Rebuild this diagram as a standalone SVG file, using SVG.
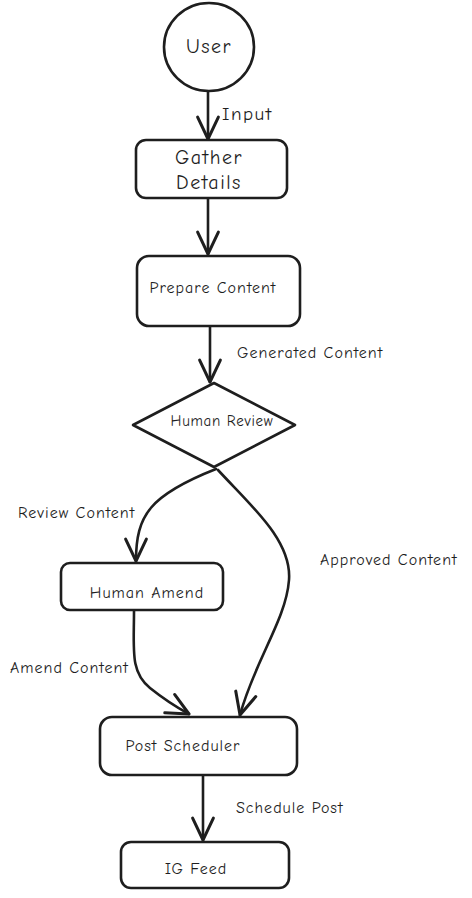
<svg xmlns="http://www.w3.org/2000/svg" width="472" height="898" viewBox="0 0 472 898">
<style>
.n{fill:#fff;stroke:#1e1e1e;stroke-width:2.6;stroke-linejoin:round}
.c{fill:none;stroke:#1e1e1e;stroke-width:2.6;stroke-linecap:round;stroke-linejoin:round}
text{font-family:"Comic Neue","Liberation Sans","DejaVu Sans",sans-serif;fill:#1e1e1e}
.t{font-size:20px;letter-spacing:1.5px;text-anchor:middle}
.s{font-size:16px;letter-spacing:1px;text-anchor:middle}
.l{font-size:16px;letter-spacing:1px}
</style>
<defs>
<marker id="ah" markerUnits="userSpaceOnUse" markerWidth="30" markerHeight="30" viewBox="-22 -12 26 24" refX="0" refY="0" orient="auto" overflow="visible">
<path d="M-19,-9 L0,0 L-19,9" fill="none" stroke="#1e1e1e" stroke-width="2.6" stroke-linecap="round" stroke-linejoin="round"/>
</marker>
</defs>
<rect width="472" height="898" fill="#fff"/>
<g id="connectors">
<path class="c" d="M208,92 L208,139" marker-end="url(#ah)"/>
<path class="c" d="M208,198 L208,254" marker-end="url(#ah)"/>
<path class="c" d="M210,326 L210,382" marker-end="url(#ah)"/>
<path class="c" d="M216,469 C150,495 136,515 136,561" marker-end="url(#ah)"/>
<path class="c" d="M218,470 C250,505 292,540 289,580 C286,620 255,660 240,715" marker-end="url(#ah)"/>
<path class="c" d="M134,611 C134,650 130,672 150,688 C165,700 176,707 189,714" marker-end="url(#ah)"/>
<path class="c" d="M203,775 L203,840" marker-end="url(#ah)"/>
<text class="l" x="222" y="120" style="font-size:19px;letter-spacing:1.5px">Input</text>
<text class="l" x="237" y="358">Generated Content</text>
<text class="l" x="18" y="518">Review Content</text>
<text class="l" x="320" y="565">Approved Content</text>
<text class="l" x="10" y="673">Amend Content</text>
<text class="l" x="236" y="813">Schedule Post</text>
</g>
<g id="user">
<ellipse class="n" cx="209" cy="47" rx="45" ry="44"/>
<text class="t" x="209" y="53">User</text>
</g>
<g id="gather">
<rect class="n" x="136" y="140" width="151" height="58" rx="10"/>
<text class="t" x="209" y="164">Gather</text>
<text class="t" x="209" y="189">Details</text>
</g>
<g id="prepare">
<rect class="n" x="137" y="256" width="163" height="70" rx="12"/>
<text class="s" x="213" y="293">Prepare Content</text>
</g>
<g id="review">
<path class="n" d="M214,383 L295,425 L214,467 L133,425 Z"/>
<text class="s" x="222" y="426" style="font-size:15px;letter-spacing:0.7px">Human Review</text>
</g>
<g id="amend">
<rect class="n" x="61" y="563" width="162" height="47" rx="9"/>
<text class="s" x="147" y="598">Human Amend</text>
</g>
<g id="scheduler">
<rect class="n" x="100" y="717" width="197" height="58" rx="12"/>
<text class="s" x="183" y="751">Post Scheduler</text>
</g>
<g id="feed">
<rect class="n" x="121" y="842" width="168" height="46" rx="10"/>
<text class="s" x="196" y="874">IG Feed</text>
</g>
</svg>
